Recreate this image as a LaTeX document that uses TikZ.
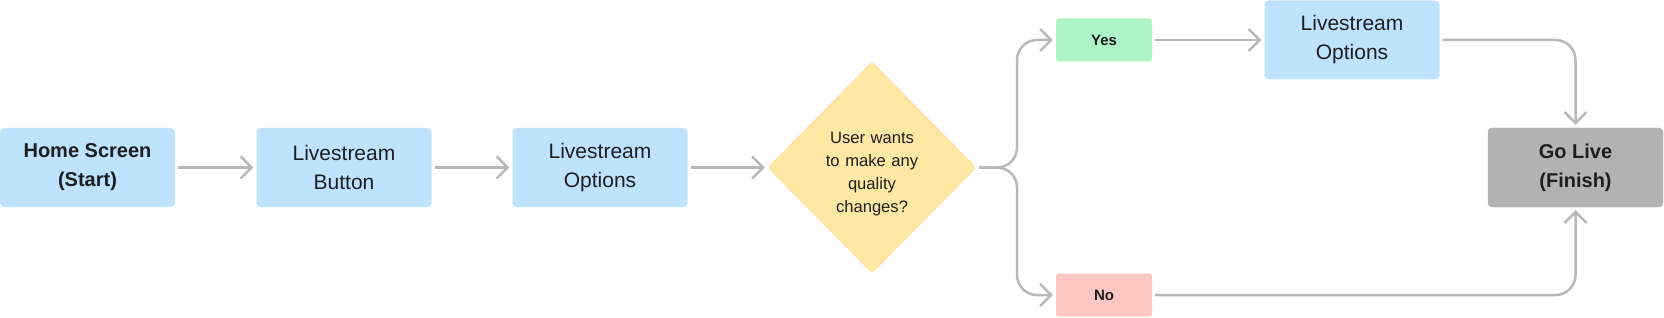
\documentclass[tikz,border=0pt]{standalone}
\usepackage{fontspec}
\setmainfont{Liberation Sans}
\usetikzlibrary{arrows.meta,shapes.geometric}
\definecolor{boxblue}{HTML}{BDE3FF}
\definecolor{boxgreen}{HTML}{AFF4C6}
\definecolor{boxred}{HTML}{FFC7C2}
\definecolor{boxyellow}{HTML}{FFE8A3}
\definecolor{boxgray}{HTML}{B3B3B3}
\definecolor{linegray}{HTML}{B8B8B8}
\definecolor{inktext}{HTML}{1E1E1E}

\begin{document}
\begin{tikzpicture}[x=1pt,y=-1pt,
	stepbox/.style={rectangle, rounded corners=4pt, fill=boxblue, draw=boxblue!85!black!20, line width=0.4pt,
		minimum width=175pt, minimum height=79pt, inner sep=0pt, align=center, text=inktext,
		font=\fontsize{21}{29}\selectfont},
	endbox/.style={stepbox, font=\bfseries\fontsize{20}{29}\selectfont},
	answer/.style={rectangle, rounded corners=3pt, minimum width=96pt, minimum height=43pt, inner sep=0pt,
		text=inktext, font=\bfseries\fontsize{15}{18}\selectfont},
	choice/.style={diamond, aspect=1, rounded corners=3pt, fill=boxyellow, draw=boxyellow!80!orange,
		line width=0.4pt, minimum width=208pt, minimum height=211pt, inner sep=0pt, text width=96pt,
		text height=24pt, align=center, text=inktext, font=\fontsize{16.6}{23}\selectfont},
	conn/.style={draw=linegray, line width=2.5pt, -{Straight Barb[length=11pt,width=22pt]},
		shorten <=3pt, shorten >=3pt}]
	\useasboundingbox (0,0) rectangle (1664,318);
	% main row
	\node[endbox] (home) at (87.5,167.5) {Home Screen\\(Start)};
	\node[stepbox] (button) at (344,167.5) {Livestream\\Button};
	\node[stepbox] (options) at (600,167.5) {Livestream\\Options};
	\node[choice] (quality) at (872,167.5) {User wants\\to make any\\quality\\changes?};
	% answers
	\node[answer, fill=boxgreen] (yes) at (1104,40) {Yes};
	\node[answer, fill=boxred] (no) at (1104,295) {No};
	\node[stepbox] (optionsb) at (1352,40) {Livestream\\Options};
	\node[endbox, fill=boxgray, draw=boxgray] (golive) at (1575.5,167.5) {Go Live\\(Finish)};
	\coordinate (split) at (1017,167.5);
	% connectors
	\draw[conn] (home) -- (button);
	\draw[conn] (button) -- (options);
	\draw[conn] (options) -- (quality);
	\draw[conn, rounded corners=20pt] (quality.east) -- (split) |- (yes.west);
	\draw[conn, rounded corners=20pt] (quality.east) -- (split) |- (no.west);
	\draw[conn] (yes) -- (optionsb);
	\draw[conn, rounded corners=20pt] (optionsb.east) -| (golive.north);
	\draw[conn, rounded corners=20pt] (no.east) -| (golive.south);
\end{tikzpicture}
\end{document}
